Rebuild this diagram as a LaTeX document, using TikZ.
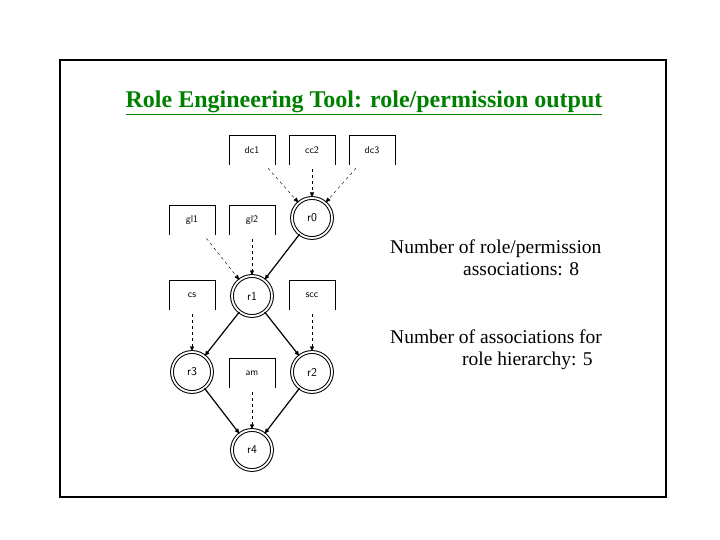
\documentclass[tikz,border=0pt]{standalone}
\usepackage{fontspec}
\setmainfont{Liberation Serif}
\usetikzlibrary{positioning,arrows.meta}
\definecolor{titlegreen}{RGB}{0,128,0}
\tikzset{
    role/.style={draw, circle, double, double distance=1.8pt, line width=1pt, minimum size=40pt, inner sep=0pt, font=\fontsize{12}{13}\sffamily},
    perm/.style={minimum width=45pt, minimum height=30pt, inner sep=0pt, font=\fontsize{10}{11}\sffamily},
    assign/.style={dashed, -{Triangle[length=5pt,width=4pt]}, shorten <=4pt},
    inherit/.style={line width=1.2pt, -{Triangle[length=5pt,width=4pt]}}
}
\begin{document}
\begin{tikzpicture}[x=1pt, y=-1pt]
    \useasboundingbox (0,0) rectangle (720,540);
    \draw[line width=2pt] (60,60) rectangle (666,497);
    \node[text=titlegreen, font=\fontsize{24}{26}\bfseries](title) at (364,103){\underline{Role Engineering Tool: role/permission output}};
    \node[role](r0) at (312,218){r0};
    \node[role](r1) at (252,296){r1};
    \node[role](r3) at (192,372){r3};
    \node[role](r2) at (312,372){r2};
    \node[role](r4) at (252,450){r4};
    \node[perm](dc1) at (252,150){dc1};
    \node[perm](cc2) at (312,150){cc2};
    \node[perm](dc3) at (372,150){dc3};
    \node[perm](gl1) at (192,220){gl1};
    \node[perm](gl2) at (252,220){gl2};
    \node[perm](cs) at (192,295){cs};
    \node[perm](scc) at (312,295){scc};
    \node[perm](am) at (252,373){am};
    \foreach \p in {dc1,cc2,dc3,gl1,gl2,cs,scc,am}
        \draw (\p.south west) |- (\p.north east) -- (\p.south east);
    \draw[assign](dc1)--(r0); \draw[assign](cc2)--(r0); \draw[assign](dc3)--(r0);
    \draw[assign](gl1)--(r1); \draw[assign](gl2)--(r1);
    \draw[assign](cs)--(r3); \draw[assign](scc)--(r2); \draw[assign](am)--(r4);
    \draw[inherit](r0)--(r1);
    \draw[inherit](r1)--(r3); \draw[inherit](r1)--(r2);
    \draw[inherit](r3)--(r4); \draw[inherit](r2)--(r4);
    \node[align=left, font=\fontsize{19.5}{22}\selectfont, anchor=north west, inner sep=0pt](nassoc) at (390,240){Number of role/permission\\\hspace*{73pt}associations: 8};
    \node[align=left, font=\fontsize{19.5}{22}\selectfont, anchor=north west, inner sep=0pt](nhier) at (390,330){Number of associations for\\\hspace*{72pt}role hierarchy: 5};
\end{tikzpicture}
\end{document}
